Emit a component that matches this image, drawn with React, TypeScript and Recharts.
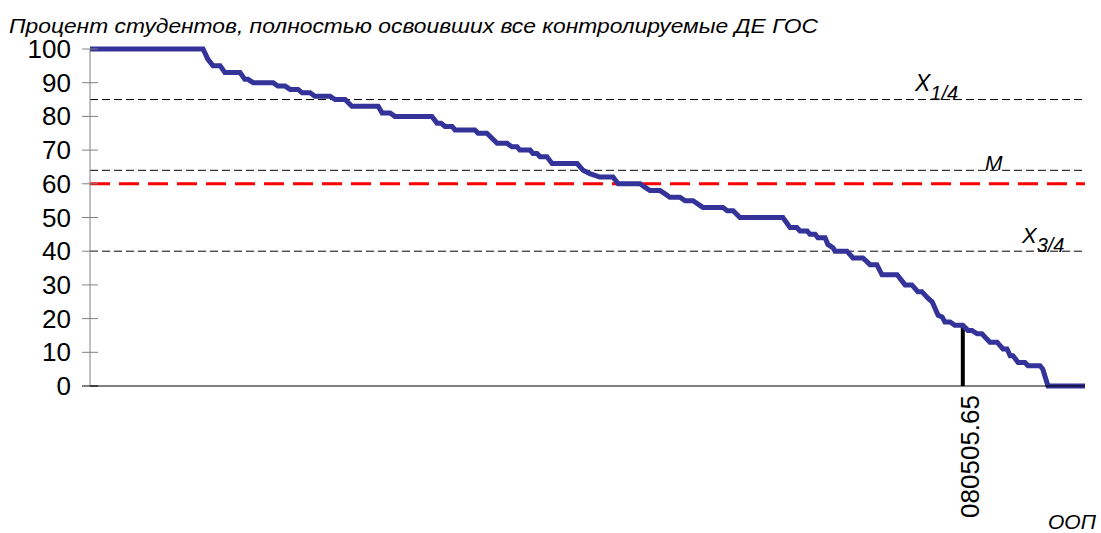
import React from "react";
import { ComposedChart, Line, XAxis, YAxis, ReferenceLine } from "recharts";

const chartTitle = "Процент студентов, полностью освоивших все контролируемые ДЕ ГОС";
const xAxisTitle = "ООП";
const programCount = 250;

// rank of the programme (sorted by result) and the percentage of students
const ranks = [
  0, 28.4, 29.6, 30.9, 32.7, 33.9, 37.7, 38.9, 39.7, 41.0, 46.0, 47.2, 49.0, 50.3, 52.3,
  53.3, 55.3, 56.5, 60.3, 61.6, 64.1, 65.8, 72.4, 73.4, 75.4, 76.6, 85.9, 87.2, 88.2, 89.2,
  91.0, 91.7, 96.7, 97.5, 99.7, 102.3, 104.8, 106.0, 107.3, 108.0, 110.6, 111.3, 112.3, 113.1,
  114.8, 116.1, 122.4, 123.9, 125.6, 128.1, 131.4, 132.7, 138.2, 139.4, 140.7, 143.2, 144.5,
  145.7, 148.2, 149.5, 151.5, 154.0, 159.0, 160.1, 161.6, 163.3, 174.1, 175.9, 177.6, 178.4,
  180.2, 180.9, 182.2, 182.9, 184.7, 185.4, 186.7, 187.2, 190.2, 191.7, 194.2, 196.0, 197.7,
  199.0, 202.8, 204.8, 206.5, 208.0, 209.0, 210.6, 211.6, 213.1, 214.1, 214.8, 216.1, 217.3,
  219.3, 220.6, 221.6, 222.9, 224.1, 226.1, 227.9, 229.4, 230.4, 231.2, 231.9, 233.2, 234.9,
  235.7, 238.7, 239.4, 240.7, 250,
];
const percents = [
  100, 100, 97, 95, 95, 93, 93, 91, 91, 90, 90, 89, 89, 88, 88,
  87, 87, 86, 86, 85, 85, 83, 83, 81, 81, 80, 80, 78, 78, 77,
  77, 76, 76, 75, 75, 72, 72, 71, 71, 70, 70, 69, 69, 68,
  68, 66, 66, 64, 63, 62, 62, 60, 60, 59, 58, 58, 57,
  56, 56, 55, 55, 53, 53, 52, 52, 50, 50, 47, 47, 46,
  46, 45, 45, 44, 44, 42, 41, 40, 40, 38, 38, 36, 36,
  33, 33, 30, 30, 28, 28, 26, 25, 21, 20.5, 19, 19, 18,
  18, 16.5, 16.5, 15.5, 15.5, 13, 13, 11, 11, 9, 9, 7, 7,
  6, 6, 5, 0, 0,
];
const yTicks = [0, 10, 20, 30, 40, 50, 60, 70, 80, 90, 100];

const quartileUpper = 85;
const medianValue = 64;
const quartileLower = 40;
const thresholdValue = 60;

const markedCode = "080505.65";
const markedRank = 219.3;
const markedPercent = 18;

const data = ranks.map((r, i) => ({ rank: r, pct: percents[i] }));

const FONT = "'Liberation Sans', Arial, sans-serif";

const YTick = (props: any) => {
  const { x, y, payload } = props;
  return (
    <g>
      <line
        x1={x + 11}
        x2={x + 27}
        y1={y}
        y2={y}
        stroke={payload.value === 0 ? "#000" : "#808080"}
        strokeWidth={1}
      />
      <text x={x} y={y} dy={9} textAnchor="end" fontSize={26} fill="#000" fontFamily={FONT}>
        {payload.value}
      </text>
    </g>
  );
};

const XTick = (props: any) => {
  const { x, y } = props;
  const bx = x + 16;
  return (
    <text
      x={bx}
      y={y}
      transform={`rotate(-90, ${bx}, ${y})`}
      textAnchor="end"
      fontSize={26}
      fill="#000"
      fontFamily={FONT}
    >
      {markedCode}
    </text>
  );
};

const QLabel = (props: any) => {
  const { viewBox, main, sub, dxFromRight, dyUp, mainSize } = props;
  if (!viewBox) return null;
  const x = viewBox.x + viewBox.width - dxFromRight;
  const y = viewBox.y - dyUp;
  return (
    <text x={x} y={y} fontSize={mainSize} fontStyle="italic" fill="#000" fontFamily={FONT}>
      {main}
      {sub ? (
        <tspan dy={9} fontSize={20}>
          {sub}
        </tspan>
      ) : null}
    </text>
  );
};

export default function App() {
  return (
    <div style={{ position: "absolute", left: 0, top: 0, width: 1101, height: 533, background: "#fff" }}>
      <ComposedChart
        width={1101}
        height={533}
        data={data}
        margin={{ top: 49, right: 16, bottom: 7, left: 0 }}
      >
        <XAxis
          dataKey="rank"
          type="number"
          domain={[0, programCount]}
          ticks={[markedRank]}
          tickLine={false}
          tickSize={0}
          tickMargin={9}
          height={140}
          axisLine={{ stroke: "#000", strokeWidth: 1 }}
          tick={<XTick />}
          interval={0}
        />
        <YAxis
          type="number"
          domain={[0, 100]}
          ticks={yTicks}
          width={90}
          tickLine={false}
          tickSize={0}
          tickMargin={19}
          axisLine={{ stroke: "#808080", strokeWidth: 1 }}
          tick={<YTick />}
          interval={0}
        />
        <ReferenceLine
          y={quartileUpper}
          stroke="#000"
          strokeWidth={1}
          strokeDasharray="8 4"
          label={<QLabel main="X" sub="1/4" dxFromRight={170} dyUp={9} mainSize={23} />}
        />
        <ReferenceLine
          y={medianValue}
          stroke="#000"
          strokeWidth={1}
          strokeDasharray="8 4"
          label={<QLabel main="M" dxFromRight={100} dyUp={0} mainSize={21} />}
        />
        <ReferenceLine
          y={quartileLower}
          stroke="#000"
          strokeWidth={1}
          strokeDasharray="8 4"
          label={<QLabel main="X" sub="3/4" dxFromRight={63} dyUp={8} mainSize={22} />}
        />
        <ReferenceLine
          y={thresholdValue}
          stroke="#ff0000"
          strokeWidth={3}
          strokeDasharray="20 9"
        />
        <ReferenceLine
          segment={[
            { x: markedRank, y: 0 },
            { x: markedRank, y: markedPercent },
          ]}
          stroke="#000"
          strokeWidth={4}
        />
        <Line
          type="linear"
          dataKey="pct"
          stroke="#333399"
          strokeWidth={5}
          dot={false}
          activeDot={false}
          isAnimationActive={false}
        />
      </ComposedChart>
      <svg
        width={1101}
        height={533}
        style={{ position: "absolute", left: 0, top: 0, pointerEvents: "none" }}
      >
        <text
          x={9}
          y={33}
          fontSize={21}
          fontStyle="italic"
          fill="#000"
          fontFamily={FONT}
          textLength={809}
          lengthAdjust="spacingAndGlyphs"
        >
          {chartTitle}
        </text>
        <text x={1048} y={529} fontSize={21} fontStyle="italic" fill="#000" fontFamily={FONT}>
          {xAxisTitle}
        </text>
      </svg>
    </div>
  );
}
